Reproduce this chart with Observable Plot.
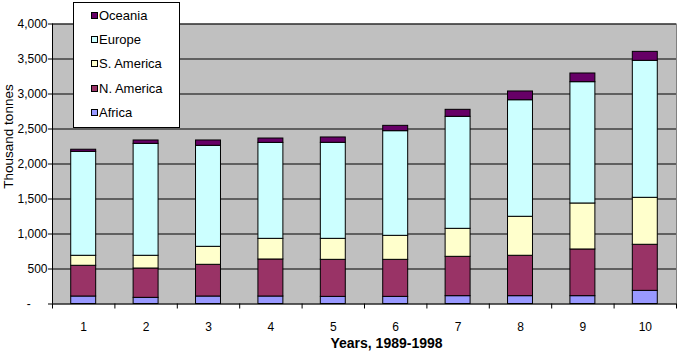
<!DOCTYPE html>
<html>
<head>
<meta charset="utf-8">
<script src="https://cdn.jsdelivr.net/npm/d3@7"></script>
<script src="https://cdn.jsdelivr.net/npm/@observablehq/plot@0.6"></script>
<style>
  html, body { margin: 0; padding: 0; background: #ffffff; }
  #wrap { position: relative; width: 680px; height: 354px; font-family: "Liberation Sans", Arial, sans-serif; }
  #legend { position: absolute; left: 73px; top: 2px; width: 105px; height: 124px; background: #ffffff; border: 1px solid #000; }
  .row { height: 24.4px; display: flex; align-items: center; padding-left: 17px; font-size: 13px; color: #000; }
  .sw { width: 5px; height: 5px; border: 1px solid #000; margin-right: 1px; flex: none; }
</style>
</head>
<body>
<div id="wrap"></div>
<script>
const years = [1, 2, 3, 4, 5, 6, 7, 8, 9, 10];
const regions = ["Africa", "N. America", "S. America", "Europe", "Oceania"];
const colors = ["#9999ff", "#993366", "#ffffcc", "#ccffff", "#660066"];
const africa   = [107, 88, 107, 107, 102, 102, 112, 112, 112, 188];
const nAmerica = [439, 419, 453, 529, 529, 529, 562, 577, 667, 658];
const sAmerica = [143, 182, 257, 295, 300, 343, 400, 557, 657, 671];
const europe   = [1485, 1599, 1443, 1371, 1372, 1495, 1600, 1665, 1733, 1957];
const oceania  = [30, 48, 76, 62, 76, 76, 100, 125, 124, 128];
const yTicks = [0, 500, 1000, 1500, 2000, 2500, 3000, 3500, 4000];
const yLabel = "Thousand tonnes";
const xLabel = "Years, 1989-1998";

const series = [africa, nAmerica, sAmerica, europe, oceania];
const rows = [];
years.forEach((yr, i) => {
  regions.forEach((r, k) => rows.push({year: yr, region: r, value: series[k][i]}));
});
const boundaries = [years[0] - 0.5, ...years.map(y => y + 0.5)];
const fmt = d3.format(",");

const chart = Plot.plot({
  width: 680,
  height: 354,
  marginLeft: 52,
  marginRight: 4,
  marginTop: 23.5,
  marginBottom: 50.5,
  style: {background: "#ffffff", fontFamily: "'Liberation Sans', Arial, sans-serif", color: "#000"},
  x: {type: "linear", domain: [years[0] - 0.5, years[years.length - 1] + 0.5]},
  y: {domain: [0, 4000]},
  color: {domain: regions, range: colors},
  marks: [
    Plot.frame({fill: "#c0c0c0", stroke: "#808080"}),
    Plot.gridY(yTicks.filter(d => d > 0), {stroke: "#000", strokeOpacity: 1}),
    Plot.rectY(rows, Plot.stackY({
      x: "year",
      x1: d => d.year - 0.2,
      x2: d => d.year + 0.2,
      y: "value",
      fill: "region",
      stroke: "#000",
      strokeWidth: 1
    })),
    Plot.ruleY([0], {stroke: "#000"}),
    Plot.ruleX([boundaries[0]], {stroke: "#000"}),
    Plot.axisY(yTicks, {
      tickSize: 4, tickPadding: 1, fontSize: 12, label: null,
      tickFormat: d => d === 0 ? "-\u00a0\u00a0\u00a0\u00a0\u00a0" : fmt(d)
    }),
    Plot.axisX(boundaries, {tickSize: 5, tickFormat: () => "", label: null}),
    Plot.axisX(years, {tickSize: 0, tickPadding: 18, fontSize: 12, label: null, tickFormat: d => String(d)}),
    Plot.text([yLabel], {frameAnchor: "left", textAnchor: "middle", lineAnchor: "middle", rotate: -90, dx: -43.5, dy: -27.5, fontSize: 13.5, fill: "#000"}),
    Plot.text([xLabel], {frameAnchor: "bottom", textAnchor: "middle", lineAnchor: "middle", dx: 22, dy: 40, fontSize: 14, fontWeight: "bold", fill: "#000"})
  ]
});

const wrap = document.getElementById("wrap");
wrap.appendChild(chart);

const legend = document.createElement("div");
legend.id = "legend";
for (let k = regions.length - 1; k >= 0; k--) {
  const row = document.createElement("div");
  row.className = "row";
  const sw = document.createElement("span");
  sw.className = "sw";
  sw.style.background = colors[k];
  const t = document.createElement("span");
  t.textContent = regions[k];
  row.appendChild(sw);
  row.appendChild(t);
  legend.appendChild(row);
}
wrap.appendChild(legend);
</script>
</body>
</html>
